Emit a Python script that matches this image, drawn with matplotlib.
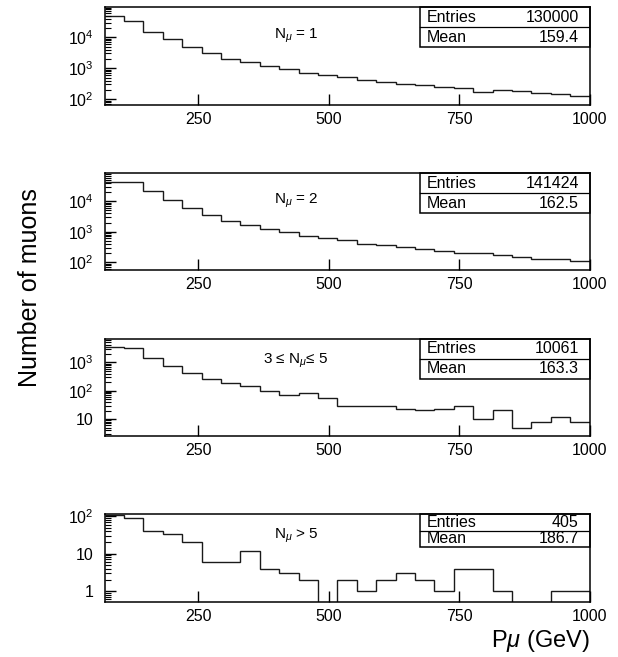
import numpy as np
import matplotlib
matplotlib.use('Agg')
import matplotlib.pyplot as plt
from matplotlib.patches import Rectangle
from matplotlib.ticker import LogLocator, FuncFormatter, NullFormatter

plt.rcParams['font.family'] = ['Liberation Sans', 'DejaVu Sans']
plt.rcParams['mathtext.fontset'] = 'custom'
plt.rcParams['mathtext.rm'] = 'Liberation Sans'
plt.rcParams['mathtext.it'] = 'Liberation Sans:italic'

# binning of the momentum histograms (GeV)
p_min = 70
p_max = 1000
n_bins = 25

# counts per bin
n1_counts = [50000, 34500, 15200, 8620, 4880, 3200, 1950, 1600, 1160, 930,
             707, 594, 525, 410, 362, 312, 297, 250, 226, 173,
             195, 190, 156, 145, 131]
n2_counts = [42400, 41500, 21100, 10800, 6080, 3600, 2300, 1620, 1270, 988,
             751, 631, 530, 384, 365, 322, 277, 239, 196, 196,
             173, 145, 131, 131, 113]
n3_counts = [3380, 3200, 1450, 748, 429, 259, 194, 149, 97, 71,
             81, 56, 30, 29, 29, 23, 21, 22, 30, 10,
             21, 5, 8, 12, 8]
n4_counts = [108, 92, 40, 34, 21, 6, 6, 12, 4, 3,
             2, 0, 2, 1, 2, 3, 2, 1, 4, 4,
             1, 0, 0, 1, 1]

labels = [r'N$_{\mu}$ = 1', r'N$_{\mu}$ = 2', r'3 ≤ N$_{\mu}$≤ 5', r'N$_{\mu}$ > 5']
entries = ['130000', '141424', '10061', '405']
means = ['159.4', '162.5', '163.3', '186.7']
ylims = [(65, 9.3e4), (54, 8.5e4), (2.6, 6800), (0.52, 115)]

edges = np.linspace(p_min, p_max, n_bins + 1)
all_counts = [n1_counts, n2_counts, n3_counts, n4_counts]

W, H = 618, 657
fig = plt.figure(figsize=(W / 100, H / 100), dpi=100)

# panel frames in pixels: (top, bottom)
frames = [(7.3, 105), (173, 270.3), (338.7, 435.7), (514, 601.7)]
box_h = [40, 40, 40, 33]
label_y = [0.71, 0.71, 0.77, 0.75]
left_px, right_px = 104.5, 589.5


def log_label(v, pos):
    if v >= 100:
        return r'$10^{%d}$' % round(np.log10(v))
    return '%g' % v


for i, counts in enumerate(all_counts):
    top, bot = frames[i]
    ax = fig.add_axes([left_px / W, 1 - bot / H, (right_px - left_px) / W, (bot - top) / H])
    c = np.array(counts, dtype=float)
    c = np.where(c > 0, c, 1e-3)
    ax.stairs(c, edges, baseline=None, color='#1a1a1a', lw=1.0)
    ax.set_yscale('log')
    ax.set_xlim(p_min, p_max)
    ax.set_ylim(*ylims[i])

    ax.set_xticks([250, 500, 750, 1000])
    ax.set_xticklabels(['250', '500', '750', '1000'])
    ax.yaxis.set_major_locator(LogLocator(base=10))
    ax.yaxis.set_minor_locator(LogLocator(base=10, subs=np.arange(2, 10)))
    ax.yaxis.set_major_formatter(FuncFormatter(log_label))
    ax.yaxis.set_minor_formatter(NullFormatter())
    ax.tick_params(axis='both', which='major', direction='in', length=8, width=1.0,
                   labelsize=11.5, top=False, right=False)
    ax.tick_params(axis='x', which='major', pad=5)
    ax.tick_params(axis='y', which='major', pad=8)
    ax.tick_params(axis='y', which='minor', direction='in', length=4, width=0.8, right=False)
    ax.tick_params(axis='x', which='minor', bottom=False)
    for s in ax.spines.values():
        s.set_linewidth(1.1)

    ax.text(0.395, label_y[i], labels[i], transform=ax.transAxes,
            ha='center', va='center', fontsize=11)

    # stats box
    bh = box_h[i] / (bot - top)
    bx = (420 - left_px) / (right_px - left_px)
    ax.add_patch(Rectangle((bx, 1 - bh), 1 - bx, bh, transform=ax.transAxes,
                           fill=False, lw=1.1, edgecolor='black', clip_on=False))
    ax.plot([bx, 1], [1 - bh / 2, 1 - bh / 2], transform=ax.transAxes, color='black', lw=0.9)
    ax.text(bx + 0.014, 1 - bh / 4, 'Entries', transform=ax.transAxes, ha='left', va='center', fontsize=11.5)
    ax.text(0.978, 1 - bh / 4, entries[i], transform=ax.transAxes, ha='right', va='center', fontsize=11.5)
    ax.text(bx + 0.014, 1 - 3 * bh / 4, 'Mean', transform=ax.transAxes, ha='left', va='center', fontsize=11.5)
    ax.text(0.978, 1 - 3 * bh / 4, means[i], transform=ax.transAxes, ha='right', va='center', fontsize=11.5)

fig.text(30 / W, 1 - 288 / H, 'Number of muons', rotation=90, ha='center', va='center', fontsize=18)
fig.text(590 / W, 1 - 641 / H, r'P$\mu$ (GeV)', ha='right', va='center', fontsize=17)

fig.savefig('out.png', dpi=100)
